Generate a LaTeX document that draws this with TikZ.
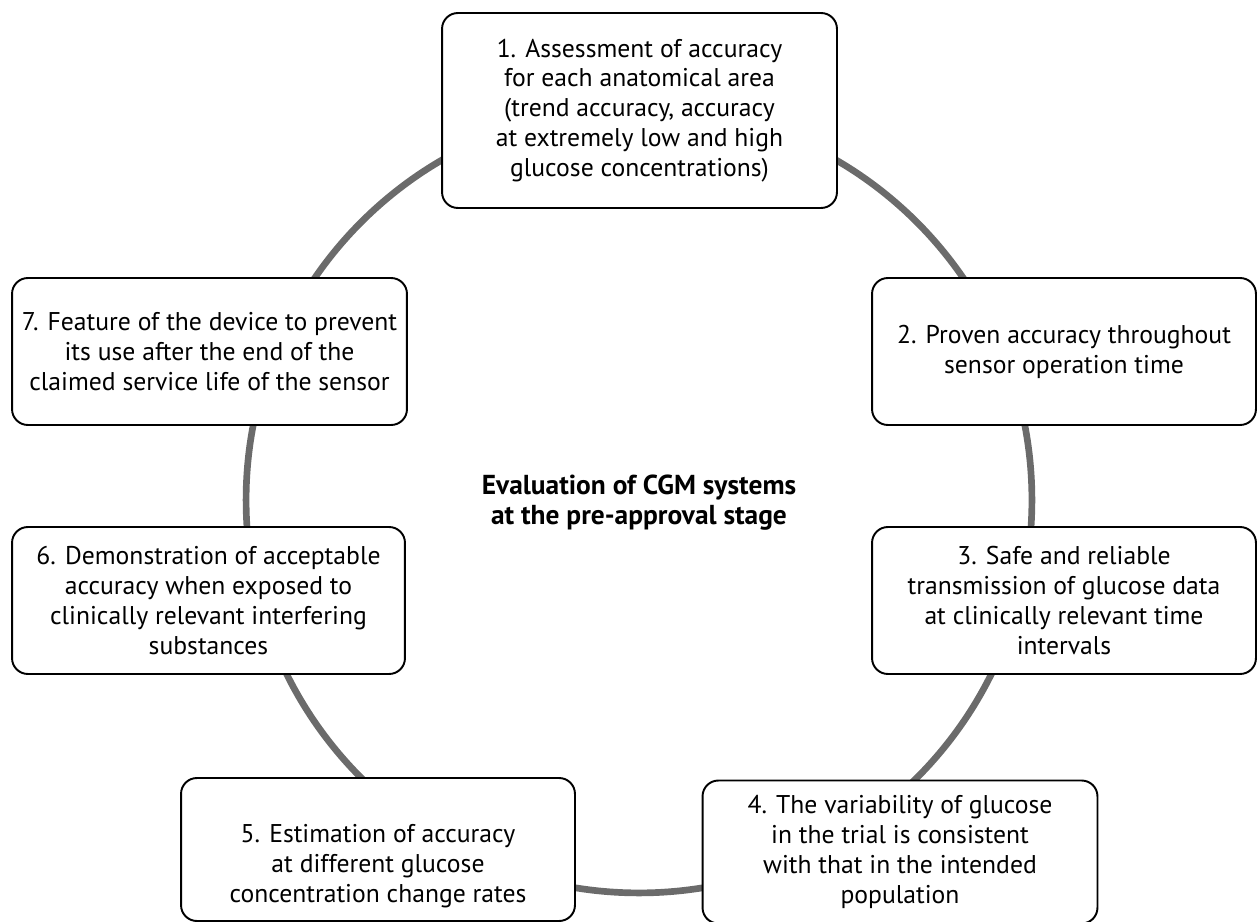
\documentclass[tikz,border=0pt]{standalone}
\usepackage{fontspec}
\setmainfont{PT Sans}
\definecolor{ringgray}{HTML}{6B6B6B}
\tikzset{
  stage/.style={draw, fill=white, line width=1.1pt, rounded corners=9pt,
    align=center, inner sep=0pt, font=\fontsize{14.6}{17}\selectfont},
  ring/.style={draw=ringgray, line width=3.8pt},
}

\begin{document}
\begin{tikzpicture}[x=0.02cm, y=-0.02cm]
    \useasboundingbox (0,0) rectangle (1258,922);
    \draw[ring] (639,500) circle[radius=7.86cm];
    \node[font=\bfseries\fontsize{15.6}{17}\selectfont, align=center] (goal) at (639,503)
        {Evaluation of CGM systems\\at the pre-approval stage};
    \node[stage, minimum width=7.9cm, minimum height=3.9cm] (s1) at (639.5,110.5)
        {1. Assessment of accuracy\\for each anatomical area\\(trend accuracy, accuracy\\at extremely low and high\\glucose concentrations)};
    \node[stage, minimum width=7.68cm, minimum height=2.94cm] (s2) at (1064,351.5)
        {2. Proven accuracy throughout\\sensor operation time};
    \node[stage, minimum width=7.68cm, minimum height=2.94cm] (s3) at (1064,600.5)
        {3. Safe and reliable\\transmission of glucose data\\at clinically relevant time\\intervals};
    \node[stage, minimum width=7.9cm, minimum height=2.86cm] (s4) at (900,852)
        {4. The variability of glucose\\in the trial is consistent\\with that in the intended\\population};
    % text of box 5 sits a little low in its frame
    \node[stage, minimum width=7.88cm, minimum height=2.86cm] (s5) at (378,849.5) {};
    \node[stage, draw=none, fill=none] (s5text) at (378,866)
        {5. Estimation of accuracy\\at different glucose\\concentration change rates};
    \node[stage, minimum width=7.86cm, minimum height=2.94cm] (s6) at (208.5,600.5)
        {6. Demonstration of acceptable\\accuracy when exposed to\\clinically relevant interfering\\substances};
    \node[stage, minimum width=7.9cm, minimum height=2.94cm] (s7) at (209.5,351.5)
        {7. Feature of the device to prevent\\its use after the end of the\\claimed service life of the sensor};
\end{tikzpicture}
\end{document}
